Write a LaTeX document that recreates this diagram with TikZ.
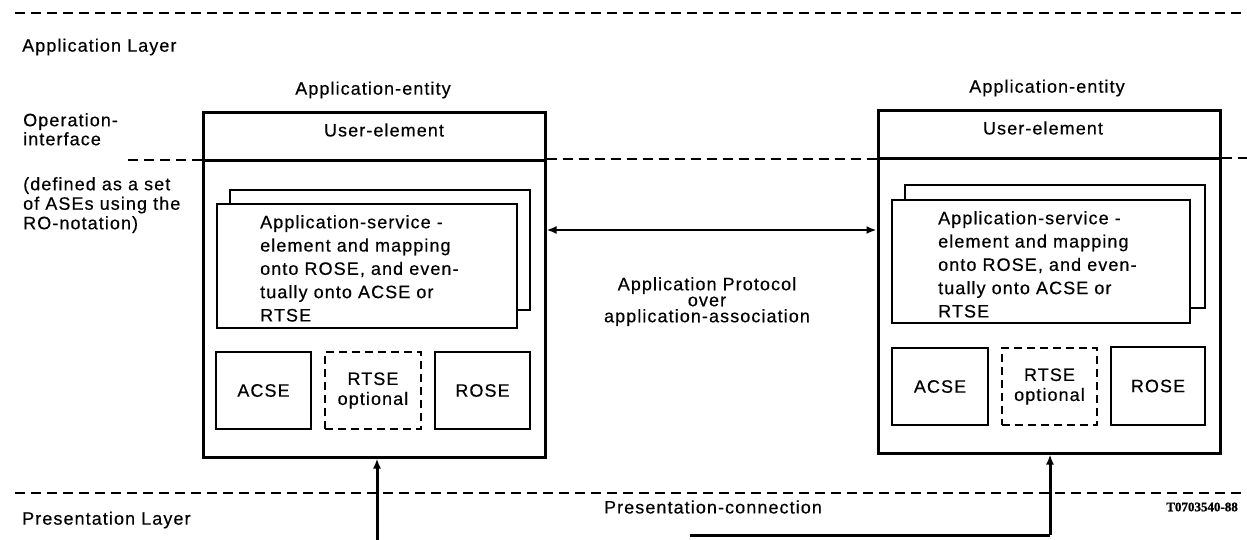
\documentclass[tikz,border=0pt]{standalone}
\usepackage{fontspec}
\setmainfont{Liberation Sans}[LetterSpace=6, FakeBold=0.4]
\newfontfamily\idfont{Liberation Serif}[FakeBold=1.2]
\usetikzlibrary{arrows.meta,calc}
\begin{document}
\begin{tikzpicture}[x=1pt,y=-1pt,
  txt/.style={inner sep=0pt, align=left},
  ctxt/.style={font=\fontsize{18}{20}\selectfont, inner sep=0pt, align=center},
  outer/.style={draw, line width=3pt, inner sep=0pt},
  inbox/.style={draw, line width=2.1pt, inner sep=0pt, fill=white},
  dbox/.style={draw, line width=2.1pt, dash pattern=on 8pt off 5pt, inner sep=0pt},
  sep/.style={line width=2pt, dash pattern=on 10pt off 6pt},
  arr/.style={line width=3pt, -{Latex[length=10pt,width=8pt]}},
  darr/.style={line width=2.6pt, {Latex[length=10pt,width=8pt]}-{Latex[length=10pt,width=8pt]}}]
\useasboundingbox (0,0) rectangle (1247,539);

% layer separators
\coordinate (t1) at (15,13);
\coordinate (t2) at (1247,13);
\draw[sep] (t1) -- (t2);
\coordinate (b1) at (15,493);
\coordinate (b2) at (1247,493);
\draw[sep] (b1) -- (b2);

% left labels
\node[ctxt, anchor=west] (al) at (22,47) {Application Layer};
\node[txt, anchor=north west, font=\fontsize{18}{19}\selectfont] (oi) at (23,113) {Operation-\\interface};
\node[txt, anchor=north west, font=\fontsize{18}{19.5}\selectfont] (def) at (23,177) {(defined as a set\\of ASEs using the\\RO-notation)};
\node[ctxt, anchor=west] (pl) at (22,520) {Presentation Layer};

% left application entity
\node[outer, minimum width=342, minimum height=345] (L) at (374,284.5) {};
\node[ctxt] (Lae) at (373,90) {Application-entity};
\node[ctxt] (Lue) at (384,130) {User-element};
\draw[line width=3pt] (L.west |- 0,160) -- (L.east |- 0,160);
\node[inbox, minimum width=300, minimum height=120] (Lb) at (380,250) {};
\node[inbox, minimum width=300, minimum height=124] (Lf) at (367,266) {};
\node[txt, anchor=north west, font=\fontsize{18}{23.3}\selectfont] (Lt) at (260,215) {Application-service -\\element and mapping\\onto ROSE, and even-\\tually onto ACSE or\\RTSE};
\node[inbox, minimum width=95, minimum height=77] (La) at (263.5,390.5) {};
\node[ctxt] at (La) {ACSE};
\node[dbox, minimum width=96, minimum height=77] (Lr) at (373,390.5) {};
\node[ctxt] at (Lr) {RTSE\\optional};
\node[inbox, minimum width=95, minimum height=77] (Lo) at (482.5,390.5) {};
\node[ctxt] at (Lo) {ROSE};

% right application entity
\node[outer, minimum width=342, minimum height=343] (R) at (1049,281.5) {};
\node[ctxt] (Rae) at (1047,88) {Application-entity};
\node[ctxt] (Rue) at (1043,128) {User-element};
\draw[line width=3pt] (R.west |- 0,158) -- (R.east |- 0,158);
\node[inbox, minimum width=300, minimum height=123] (Rb) at (1055,246.5) {};
\node[inbox, minimum width=298, minimum height=123] (Rf) at (1041,261.5) {};
\node[txt, anchor=north west, font=\fontsize{18}{23.3}\selectfont] (Rt) at (938,211) {Application-service -\\element and mapping\\onto ROSE, and even-\\tually onto ACSE or\\RTSE};
\node[inbox, minimum width=96, minimum height=77] (Ra) at (940,386.5) {};
\node[ctxt] at (Ra) {ACSE};
\node[dbox, minimum width=95, minimum height=77] (Rr) at (1049.5,386.5) {};
\node[ctxt] at (Rr) {RTSE\\optional};
\node[inbox, minimum width=94, minimum height=78] (Ro) at (1158,386) {};
\node[ctxt] at (Ro) {ROSE};

% operation interface dashed line
\coordinate (oi1) at (128,160);
\coordinate (oi2) at (1247,158);
\draw[sep] (oi1) -- (L.west |- oi1);
\draw[sep] (L.east |- 0,159) -- (R.west |- 0,159);
\draw[sep] (R.east |- oi2) -- (oi2);

% application protocol
\draw[darr] (L.east |- 0,230) -- (R.west |- 0,230);
\node[ctxt, font=\fontsize{18}{16}\selectfont, anchor=north] (ap) at (707,277) {Application Protocol\\over\\application-association};

% presentation connection
\coordinate (lb) at (377,545);
\draw[arr] (lb) -- (lb |- L.south);
\coordinate (rbl) at (690,535);
\coordinate (rb) at (1050,535);
\draw[line width=3pt] (rbl) -- (rb);
\draw[arr] (rb) -- (rb |- R.south);
\node[ctxt] (pc) at (713,507) {Presentation-connection};
\node[inner sep=0pt, anchor=east, font=\idfont\fontsize{13}{13}\selectfont\bfseries] (id) at (1238,507) {T0703540-88};
\end{tikzpicture}
\end{document}
